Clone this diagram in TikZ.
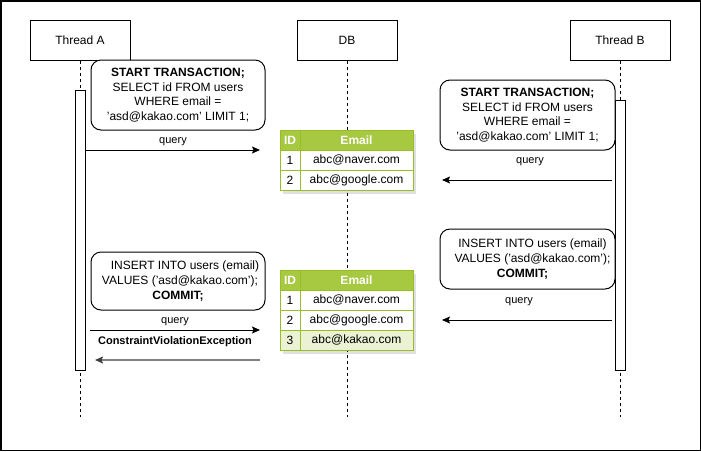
\documentclass[tikz,border=0pt]{standalone}
\usepackage{fontspec}
\setmainfont{Liberation Sans}
\usetikzlibrary{arrows.meta}
\definecolor{hdrgreen}{HTML}{A7C942}
\definecolor{tblline}{HTML}{98BF21}
\definecolor{rowgreen}{HTML}{EAF2D3}
\definecolor{retgray}{HTML}{808080}
\begin{document}
\begin{tikzpicture}[x=1pt,y=-1pt,
  actor/.style={draw, line width=1pt, minimum width=100pt, minimum height=40pt, inner sep=0pt, font=\fontsize{12}{14}\selectfont},
  lifeline/.style={line width=0.8pt, dash pattern=on 3pt off 3pt},
  actbar/.style={draw, fill=white, line width=1pt, minimum width=10pt, inner sep=0pt},
  note/.style={draw, fill=white, rounded corners=10pt, line width=1pt, inner sep=0pt, align=center, font=\fontsize{12}{14.6}\selectfont},
  msg/.style={line width=1pt, -{Stealth[length=8pt,width=7pt,inset=1.5pt]}},
  retmsg/.style={line width=2pt, retgray, -{Stealth[length=8pt,width=7pt,inset=1.5pt,color=black!75]}},
  lbl/.style={inner sep=0pt, font=\fontsize{11}{13}\selectfont},
  cell/.style={draw=tblline, line width=1pt, inner sep=0pt, minimum height=20pt, font=\fontsize{12}{14}\selectfont},
  idcell/.style={cell, minimum width=20pt},
  emcell/.style={cell, minimum width=113pt},
  hdr/.style={fill=hdrgreen, text=white, font=\fontsize{12}{14}\selectfont\bfseries},
  tshadow/.style={fill=black, opacity=0.12}
]
\useasboundingbox (0,0) rectangle (701,451);
\draw[line width=1.5pt] (0.75,0.75) rectangle (700.25,450.25);

% actors
\node[actor] (tA) at (80,40) {Thread A};
\node[actor] (db) at (347,40) {DB};
\node[actor] (tB) at (620,40) {Thread B};

% lifeline ends
\coordinate (tAend) at (80,417);
\coordinate (dbend) at (347,417);
\coordinate (tBend) at (620,417);
\draw[lifeline] (tA.south) -- (tAend);
\draw[lifeline] (db.south) -- (dbend);
\draw[lifeline] (tB.south) -- (tBend);

% activation bars
\node[actbar, minimum height=280pt] (barA) at (80,230) {};
\node[actbar, minimum height=270pt] (barB) at (620,235) {};

% notes
\node[note, minimum width=174pt, minimum height=70pt] (nA1) at (178,95)
  {\textbf{START TRANSACTION;}\\SELECT id FROM users\\WHERE email =\\'asd@kakao.com' LIMIT 1;};
\node[note, minimum width=175pt, minimum height=70pt] (nB1) at (527.5,115)
  {\textbf{START TRANSACTION;}\\SELECT id FROM users\\WHERE email =\\'asd@kakao.com' LIMIT 1;};
\node[note, minimum width=174pt, minimum height=58pt] (nA2) at (178,281)
  {\hspace*{14pt}INSERT INTO users (email)\\\hspace*{4pt}VALUES ('asd@kakao.com');\\\textbf{COMMIT;}};
\node[note, minimum width=175pt, minimum height=60pt] (nB2) at (527.5,259)
  {\hspace*{10pt}INSERT INTO users (email)\\\hspace*{10pt}VALUES ('asd@kakao.com');\\\hspace*{-10pt}\textbf{COMMIT;}};

% table 1
\fill[tshadow] (283,134) rectangle (416,194);
\node[idcell, hdr] (t1h1) at (290,140) {ID};
\node[emcell, hdr] (t1h2) at (356.5,140) {Email};
\node[idcell, fill=white] (t1a1) at (290,160) {1};
\node[emcell, fill=white] (t1a2) at (356.5,160) {abc@naver.com};
\node[idcell, fill=white] (t1b1) at (290,180) {2};
\node[emcell, fill=white] (t1b2) at (356.5,180) {abc@google.com};

% table 2
\fill[tshadow] (283,274) rectangle (416,354);
\node[idcell, hdr] (t2h1) at (290,280) {ID};
\node[emcell, hdr] (t2h2) at (356.5,280) {Email};
\node[idcell, fill=white] (t2a1) at (290,300) {1};
\node[emcell, fill=white] (t2a2) at (356.5,300) {abc@naver.com};
\node[idcell, fill=white] (t2b1) at (290,320) {2};
\node[emcell, fill=white] (t2b2) at (356.5,320) {abc@google.com};
\node[idcell, fill=rowgreen] (t2c1) at (290,340) {3};
\node[emcell, fill=rowgreen] (t2c2) at (356.5,340) {abc@kakao.com};

% messages
\coordinate (m1s) at (85,150);  \coordinate (m1e) at (260,150);
\coordinate (m2s) at (612,180); \coordinate (m2e) at (442,180);
\coordinate (m3s) at (612,320); \coordinate (m3e) at (442,320);
\coordinate (m4s) at (90,330);  \coordinate (m4e) at (260,330);
\coordinate (m5s) at (260,360); \coordinate (m5e) at (95,360);
\draw[msg] (m1s) -- (m1e);
\draw[msg] (m2s) -- (m2e);
\draw[msg] (m3s) -- (m3e);
\draw[msg] (m4s) -- (m4e);
\draw[retmsg] (m5s) -- (m5e);

\node[lbl] (l1) at (173,142) {query};
\node[lbl] (l2) at (530,162) {query};
\node[lbl] (l3) at (519,302) {query};
\node[lbl] (l4) at (175,322) {query};
\node[lbl, font=\fontsize{11}{13}\selectfont\bfseries] (l5) at (175,342) {ConstraintViolationException};
\end{tikzpicture}
\end{document}
